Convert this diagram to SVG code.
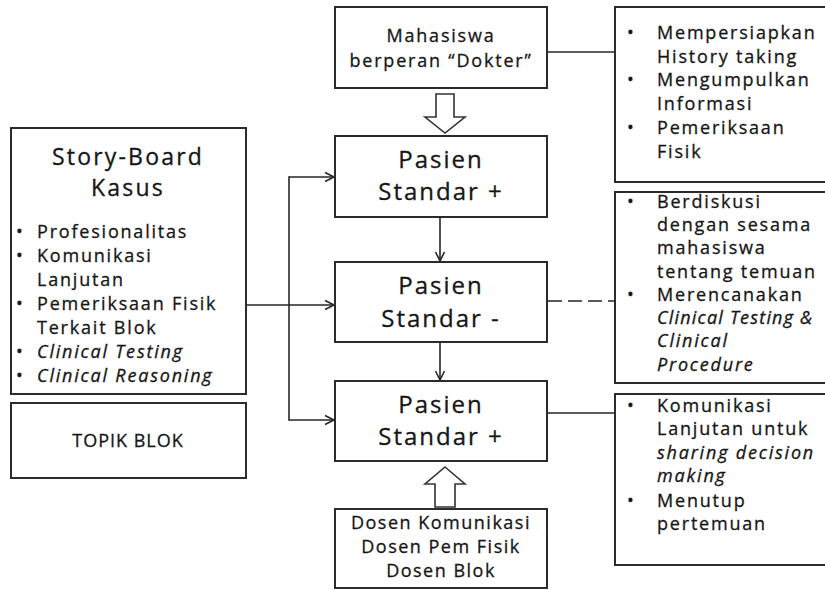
<svg xmlns="http://www.w3.org/2000/svg" width="825" height="590" viewBox="0 0 825 590">
  <style>
    text { font-family: "Open Sans", "Noto Sans", "Liberation Sans", sans-serif; fill: #161616; stroke: #161616; stroke-width: 0.3; }
    .box { fill: #ffffff; stroke: #2b2b2b; stroke-width: 2; }
    .blk { fill: #ffffff; stroke: #333333; stroke-width: 1.6; stroke-linejoin: miter; }
    .ln { fill: none; stroke: #262626; stroke-width: 1.6; }
    .dash { stroke-dasharray: 14 6; }
    .big { font-size: 24px; letter-spacing: 2px; text-anchor: middle; }
    .title { font-size: 23px; letter-spacing: 2.2px; text-anchor: middle; }
    .mid { font-size: 18px; letter-spacing: 1.8px; text-anchor: middle; }
    .li { font-size: 18px; letter-spacing: 1.8px; }
    .it { font-style: italic; }
  </style>
  <defs>
    <marker id="chev" markerUnits="userSpaceOnUse" markerWidth="12" markerHeight="12" viewBox="0 0 12 12" refX="10" refY="6" orient="auto">
      <path d="M1,1.5 L10,6 L1,10.5" fill="none" stroke="#262626" stroke-width="1.6"/>
    </marker>
  </defs>

  <!-- connectors -->
  <g id="connectors">
    <line class="ln" x1="547" y1="52" x2="615" y2="52"/>
    <line class="ln dash" x1="548" y1="301" x2="615" y2="301"/>
    <line class="ln" x1="547" y1="413" x2="615" y2="413"/>
    <line class="ln" x1="246" y1="305" x2="334" y2="305" marker-end="url(#chev)"/>
    <line class="ln" x1="289" y1="176.2" x2="289" y2="420.8"/>
    <line class="ln" x1="289" y1="177" x2="334" y2="177" marker-end="url(#chev)"/>
    <line class="ln" x1="289" y1="420" x2="334" y2="420" marker-end="url(#chev)"/>
    <line class="ln" x1="440" y1="217" x2="440" y2="261" marker-end="url(#chev)"/>
    <line class="ln" x1="440" y1="342" x2="440" y2="380" marker-end="url(#chev)"/>
    <polygon class="blk" points="436,94 454,94 454,117 465,117 445,133 425,117 436,117"/>
    <polygon class="blk" points="445,467 465,484 455,484 455,507 435,507 435,484 425,484"/>
  </g>

  <g id="storyboard">
    <rect class="box" x="11" y="128" width="235" height="266"/>
    <text class="title" x="128" y="165">Story-Board</text>
    <text class="title" x="128" y="196">Kasus</text>
    <text class="li" x="16" y="238">•</text><text class="li" x="37" y="238">Profesionalitas</text>
    <text class="li" x="16" y="262">•</text><text class="li" x="37" y="262">Komunikasi</text>
    <text class="li" x="37" y="286">Lanjutan</text>
    <text class="li" x="16" y="310">•</text><text class="li" x="37" y="310">Pemeriksaan Fisik</text>
    <text class="li" x="37" y="334">Terkait Blok</text>
    <text class="li" x="16" y="358">•</text><text class="li it" x="37" y="358">Clinical Testing</text>
    <text class="li" x="16" y="382">•</text><text class="li it" x="37" y="382">Clinical Reasoning</text>
  </g>

  <g id="topik">
    <rect class="box" x="11" y="403" width="235" height="75"/>
    <text class="mid" x="128" y="447" style="letter-spacing:1px">TOPIK BLOK</text>
  </g>

  <g id="mahasiswa">
    <rect class="box" x="335" y="7" width="212" height="81"/>
    <text class="mid" x="441" y="42">Mahasiswa</text>
    <text class="mid" x="441" y="67">berperan “Dokter”</text>
  </g>

  <g id="pasien1">
    <rect class="box" x="335" y="136" width="212" height="81"/>
    <text class="big" x="441" y="168">Pasien</text>
    <text class="big" x="441" y="200">Standar +</text>
  </g>

  <g id="pasien2">
    <rect class="box" x="335" y="262" width="212" height="80"/>
    <text class="big" x="441" y="294">Pasien</text>
    <text class="big" x="441" y="327">Standar -</text>
  </g>

  <g id="pasien3">
    <rect class="box" x="335" y="381" width="212" height="80"/>
    <text class="big" x="441" y="413">Pasien</text>
    <text class="big" x="441" y="445">Standar +</text>
  </g>

  <g id="dosen">
    <rect class="box" x="335" y="509" width="212" height="79"/>
    <text class="mid" x="441" y="529" style="letter-spacing:1.5px">Dosen Komunikasi</text>
    <text class="mid" x="441" y="553" style="letter-spacing:1.5px">Dosen Pem Fisik</text>
    <text class="mid" x="441" y="577" style="letter-spacing:1.5px">Dosen Blok</text>
  </g>

  <g id="tugas1">
    <rect class="box" x="615" y="7" width="220" height="175"/>
    <text class="li" x="627" y="39">•</text><text class="li" x="657" y="39">Mempersiapkan</text>
    <text class="li" x="657" y="63">History taking</text>
    <text class="li" x="627" y="86">•</text><text class="li" x="657" y="86">Mengumpulkan</text>
    <text class="li" x="657" y="110">Informasi</text>
    <text class="li" x="627" y="134">•</text><text class="li" x="657" y="134">Pemeriksaan</text>
    <text class="li" x="657" y="158">Fisik</text>
  </g>

  <g id="tugas2">
    <rect class="box" x="615" y="192" width="220" height="191"/>
    <text class="li" x="627" y="208">•</text><text class="li" x="657" y="208">Berdiskusi</text>
    <text class="li" x="657" y="231">dengan sesama</text>
    <text class="li" x="657" y="254">mahasiswa</text>
    <text class="li" x="657" y="278">tentang temuan</text>
    <text class="li" x="627" y="301">•</text><text class="li" x="657" y="301">Merencanakan</text>
    <text class="li it" x="657" y="324" style="letter-spacing:1.2px">Clinical Testing &amp;</text>
    <text class="li it" x="657" y="347">Clinical</text>
    <text class="li it" x="657" y="371">Procedure</text>
  </g>

  <g id="tugas3">
    <rect class="box" x="615" y="394" width="220" height="171"/>
    <text class="li" x="627" y="412">•</text><text class="li" x="657" y="412">Komunikasi</text>
    <text class="li" x="657" y="435">Lanjutan untuk</text>
    <text class="li it" x="657" y="459">sharing decision</text>
    <text class="li it" x="657" y="482">making</text>
    <text class="li" x="627" y="507">•</text><text class="li" x="657" y="507">Menutup</text>
    <text class="li" x="657" y="530">pertemuan</text>
  </g>
</svg>
